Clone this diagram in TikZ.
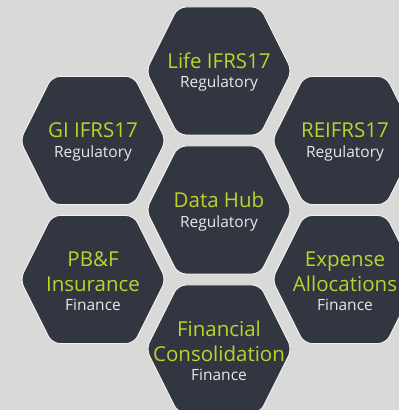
\documentclass[tikz,border=0pt]{standalone}
\usepackage{fontspec}
\setmainfont{Open Sans}

\definecolor{backgray}{RGB}{217,217,215}
\definecolor{hexfill}{RGB}{50,54,65}
\definecolor{hexline}{RGB}{242,242,240}
\definecolor{hexgreen}{RGB}{190,211,42}
\definecolor{hexsub}{RGB}{232,232,232}

\newcommand\celltitle[1]{\color{hexgreen}\fontsize{20.5}{25}\selectfont #1}
\newcommand\cellsub[1]{\color{hexsub}\fontsize{15.5}{19}\selectfont #1}

\begin{document}
\begin{tikzpicture}[x=1pt,y=1pt,
    hexcell/.style={fill=hexfill, draw=hexline, line width=0.9pt,
      rounded corners=8pt},
    hexlabel/.style={align=center, inner sep=0pt, yshift=-1.5pt,
      font=\fontsize{20.5}{25}\selectfont}
  ]
      \useasboundingbox (0,0) rectangle (399,410);
      \fill[backgray] (0,0) rectangle (399,410);
      \clip (0,0) rectangle (399,410);

      % cell centres, three columns
      \coordinate (life)    at (219,339);
      \coordinate (gi)      at (93,269.5);
      \coordinate (re)      at (345,269.5);
      \coordinate (hub)     at (219,200);
      \coordinate (pbf)     at (93,130.5);
      \coordinate (expense) at (345,130.5);
      \coordinate (fin)     at (219,61);

      % the cells
      \foreach \cell in {life,gi,re,hub,pbf,expense,fin} {
        \draw[hexcell]
          (\cell) ++(-41,64) -- ++(82,0) -- ++(32,-64)
          -- ++(-32,-64) -- ++(-82,0) -- ++(-32,64) -- cycle
        ;
      }

      % Labels
      \node[hexlabel] (lifeText) at (life)
        {\celltitle{Life IFRS17}\\[-6pt]\cellsub{Regulatory}};
      \node[hexlabel] (giText) at (gi)
        {\celltitle{GI IFRS17}\\[-5pt]\cellsub{Regulatory}};
      \node[hexlabel] (reText) at (re)
        {\celltitle{REIFRS17}\\[-5pt]\cellsub{Regulatory}};
      \node[hexlabel] (hubText) at (hub)
        {\celltitle{Data Hub}\\[-5pt]\cellsub{Regulatory}};
      \node[hexlabel] (pbfText) at (pbf)
        {\celltitle{PB\&F}\\\celltitle{Insurance}\\[-6pt]\cellsub{Finance}};
      \node[hexlabel] (expenseText) at (expense)
        {\celltitle{Expense}\\\celltitle{Allocations}\\[-6pt]\cellsub{Finance}};
      \node[hexlabel] (finText) at (fin)
        {\celltitle{Financial}\\\celltitle{Consolidation}\\[-6pt]\cellsub{Finance}};
    \end{tikzpicture}
\end{document}
